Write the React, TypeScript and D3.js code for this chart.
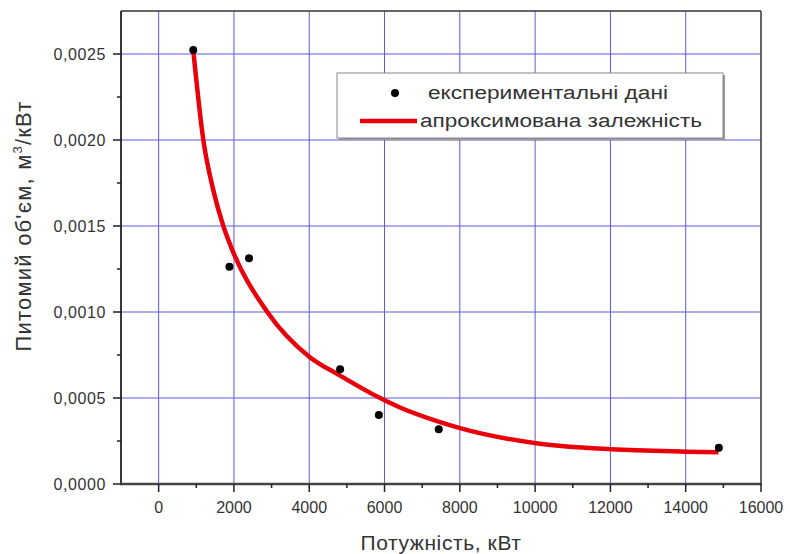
import React from "react";
import * as d3 from "d3";

const expX = [920, 1880, 2400, 4820, 5850, 7440, 14880];
const expY = [0.002523, 0.001263, 0.001312, 0.000667, 0.000401, 0.000318, 0.000211];

const fitX = [920, 1187, 1450, 1718, 1902, 2887, 4000, 4820, 5790, 6410, 7475, 8006, 10025, 12020, 14010, 14870];
const fitY = [0.00252, 0.002, 0.00171, 0.0015, 0.00139, 0.001, 0.00074, 0.00063, 0.00051, 0.000445, 0.00036, 0.000325, 0.000237, 0.000202, 0.000188, 0.000184];

const xMajor = [0, 2000, 4000, 6000, 8000, 10000, 12000, 14000, 16000];
const xMinor = [1000, 3000, 5000, 7000, 9000, 11000, 13000, 15000];
const yMajor = [0, 0.0005, 0.001, 0.0015, 0.002, 0.0025];
const yMinor = [0.00025, 0.00075, 0.00125, 0.00175, 0.00225];

const xTitle = "Потужність, кВт";
const yTitle = "Питомий об'єм, м";
const yTitleEnd = "/кВт";
const legendLabels = ["експериментальні дані", "апроксимована залежність"];

export default function App() {
  const L = 121, R = 761, T = 11, B = 484;
  const x = d3.scaleLinear().domain([-1000, 16000]).range([L, R]);
  const y = d3.scaleLinear().domain([0, 0.00275]).range([B, T]);
  const fmtY = (v: number) => d3.format(".4f")(v).replace(".", ",");
  const line = d3
    .line<number>()
    .x((_, i) => x(fitX[i]))
    .y((d) => y(d))
    .curve(d3.curveMonotoneX);
  const gridColor = "#5a5ad8";
  const textColor = "#333";
  const font = "'Liberation Sans', Arial, sans-serif";

  return (
    <svg
      width={790}
      height={554}
      style={{ position: "absolute", left: 0, top: 0, background: "#fff" }}
      fontFamily={font}
    >
      <rect x={0} y={0} width={790} height={554} fill="#fff" />
      {/* grid */}
      {xMajor.filter((v) => v < 16000).map((v) => (
        <line key={"gx" + v} x1={x(v)} x2={x(v)} y1={T} y2={B} stroke={gridColor} strokeWidth={1} />
      ))}
      {yMajor.filter((v) => v > 0).map((v) => (
        <line key={"gy" + v} x1={L} x2={R} y1={y(v)} y2={y(v)} stroke={gridColor} strokeWidth={1} />
      ))}

      {/* legend */}
      <rect x={339} y={75} width={386} height={65} fill="#999" />
      <rect x={337} y={73} width={386} height={65} fill="#fff" stroke="#888" strokeWidth={1} />
      <circle cx={395} cy={93} r={4} fill="#000" />
      <text x={428} y={99} fontSize={18} fill={textColor} textLength={240} lengthAdjust="spacingAndGlyphs">
        {legendLabels[0]}
      </text>
      <line x1={360} x2={417} y1={121} y2={121} stroke="#e8000b" strokeWidth={4.5} />
      <text x={420} y={127} fontSize={18} fill={textColor} textLength={282} lengthAdjust="spacingAndGlyphs">
        {legendLabels[1]}
      </text>

      {/* curve */}
      <path d={line(fitY) || ""} fill="none" stroke="#e8000b" strokeWidth={4.5} strokeLinecap="butt" />
      {/* points */}
      {expX.map((v, i) => (
        <circle key={"p" + i} cx={x(v)} cy={y(expY[i])} r={4} fill="#000" />
      ))}

      {/* frame */}
      <line x1={L} x2={R} y1={T} y2={T} stroke="#333" strokeWidth={1.5} />
      <line x1={R} x2={R} y1={T} y2={B} stroke="#333" strokeWidth={1.5} />
      <line x1={L} x2={L} y1={T} y2={B} stroke="#222" strokeWidth={1.8} />
      <line x1={L - 1} x2={R + 1} y1={B} y2={B} stroke="#444" strokeWidth={2.5} />

      {/* x ticks */}
      {xMajor.map((v) => (
        <g key={"xt" + v}>
          <line x1={x(v)} x2={x(v)} y1={B} y2={B + 8} stroke="#222" strokeWidth={1.5} />
          <text x={x(v)} y={513} fontSize={16} fill={textColor} textAnchor="middle">
            {String(v)}
          </text>
        </g>
      ))}
      {xMinor.map((v) => (
        <line key={"xm" + v} x1={x(v)} x2={x(v)} y1={B} y2={B + 4} stroke="#222" strokeWidth={1.5} />
      ))}

      {/* y ticks */}
      {yMajor.map((v) => (
        <g key={"yt" + v}>
          <line x1={L - 8} x2={L} y1={y(v)} y2={y(v)} stroke="#222" strokeWidth={1.5} />
          <text x={106} y={y(v) + 6} fontSize={16} fill={textColor} textAnchor="end" letterSpacing={0.6}>
            {fmtY(v)}
          </text>
        </g>
      ))}
      {yMinor.map((v) => (
        <line key={"ym" + v} x1={L - 4} x2={L} y1={y(v)} y2={y(v)} stroke="#222" strokeWidth={1.5} />
      ))}

      {/* axis titles */}
      <text x={441} y={550} fontSize={21} fill={textColor} textAnchor="middle" letterSpacing={0.6}>
        {xTitle}
      </text>
      <text
        transform="translate(31,226) rotate(-90)"
        fontSize={22}
        fill={textColor}
        textAnchor="middle"
        letterSpacing={1.2}
      >
        {yTitle}
        <tspan fontSize={13} dy={-9}>3</tspan>
        <tspan dy={9}>{yTitleEnd}</tspan>
      </text>
    </svg>
  );
}
